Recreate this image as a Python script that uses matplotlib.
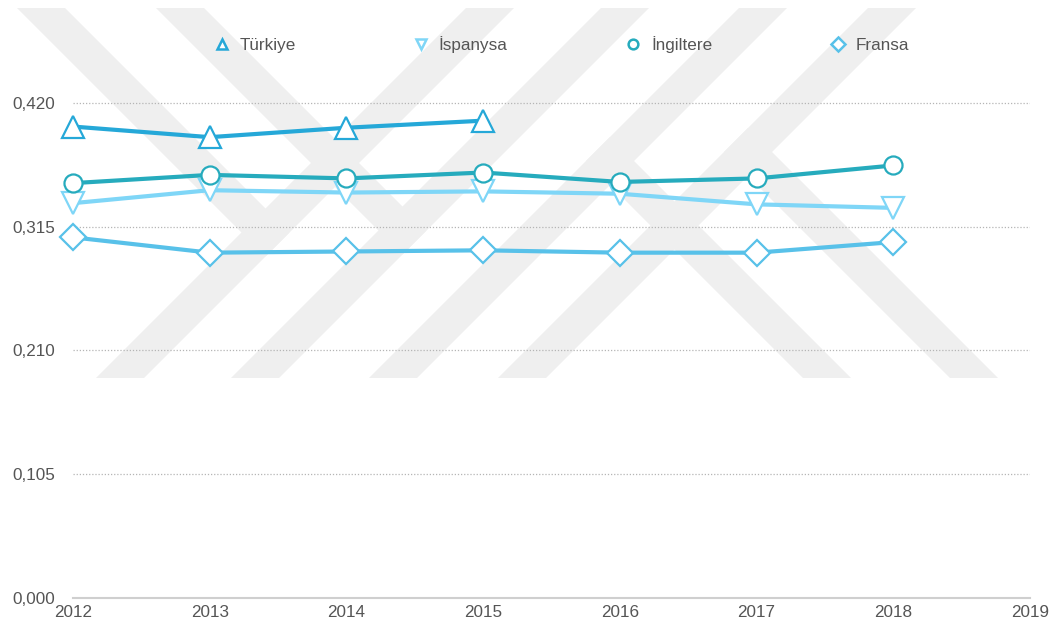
import matplotlib
matplotlib.use("Agg")
import matplotlib.pyplot as plt
from matplotlib.lines import Line2D
from matplotlib.patches import Polygon

# ---- data ----
years = [2012, 2013, 2014, 2015, 2016, 2017, 2018]
turkiye = [0.400, 0.391, 0.399, 0.405]
ispanya = [0.335, 0.346, 0.344, 0.345, 0.343, 0.334, 0.331]
ingiltere = [0.352, 0.359, 0.356, 0.361, 0.353, 0.356, 0.367]
fransa = [0.306, 0.293, 0.294, 0.295, 0.293, 0.293, 0.302]
series_names = ["Türkiye", "İspanysa", "İngiltere", "Fransa"]
yticks = [0.0, 0.105, 0.210, 0.315, 0.420]
ytick_labels = ["0,000", "0,105", "0,210", "0,315", "0,420"]
xticks = [2012, 2013, 2014, 2015, 2016, 2017, 2018, 2019]

W, H = 1056, 629
fig = plt.figure(figsize=(W / 100, H / 100), dpi=100)
plt.rcParams['font.family'] = ['Liberation Sans', 'DejaVu Sans']

# ---- watermark (decorative background) ----
def fx(x):
    return x / W

def fy(y):
    return 1 - y / H

wm_color = "#efefef"
y_top, y_bot = 8, 378
bw = 48
def slash(xb):
    d = y_bot - y_top
    return [(xb, y_bot), (xb + bw, y_bot), (xb + bw + d, y_top), (xb + d, y_top)]

def back_top(x0, xb):
    xr = xb + bw
    def meet(xe):
        y = (xr + y_bot - xe + y_top) / 2.0
        return (xe + (y - y_top), y)
    return [(x0, y_top), (x0 + bw, y_top), meet(x0 + bw), meet(x0)]

def back_bot(xb0, xs):
    def meet(xe):
        t = (xe - xs) / 2.0
        return (xe - t, y_bot - t)
    return [(xb0, y_bot), (xb0 + bw, y_bot), meet(xb0 + bw), meet(xb0)]

slash_x = [96, 231, 369, 498]
polys = [slash(x) for x in slash_x]
polys.append(back_top(17, 96))
polys.append(back_top(156, 231))
polys.append(back_bot(803, 369))
polys.append(back_bot(950, 498))
for p in polys:
    fig.patches.append(Polygon([(fx(a), fy(b)) for a, b in p], closed=True,
                               transform=fig.transFigure, facecolor=wm_color,
                               edgecolor="none", zorder=-5))

# ---- axes ----
ax = fig.add_axes([73 / W, (H - 598) / H, 957 / W, (598 - 8.7) / H])
ax.set_zorder(1)
ax.patch.set_alpha(0)
ax.set_xlim(2012, 2019)
ax.set_ylim(0, 0.5)

colors = {"Türkiye": "#25a8d8", "İspanysa": "#7fd6f7",
          "İngiltere": "#26abbd", "Fransa": "#58c1e9"}
markers = {"Türkiye": "^", "İspanysa": "v", "İngiltere": "o", "Fransa": "D"}
msizes = {"Türkiye": 16, "İspanysa": 16, "İngiltere": 13, "Fransa": 13}
data = {"Türkiye": turkiye, "İspanysa": ispanya, "İngiltere": ingiltere, "Fransa": fransa}

for name in ["Fransa", "İspanysa", "İngiltere", "Türkiye"]:
    vals = data[name]
    ax.plot(years[:len(vals)], vals, color=colors[name], lw=3.0,
            marker=markers[name], markersize=msizes[name],
            markerfacecolor="white", markeredgecolor=colors[name],
            markeredgewidth=1.6, zorder=3, clip_on=False)

ax.set_yticks(yticks)
ax.set_yticklabels(ytick_labels)
ax.set_xticks(xticks)
ax.set_xticklabels([str(x) for x in xticks])
ax.tick_params(axis='both', length=0, labelsize=12.3, colors="#555555")
ax.tick_params(axis='y', pad=13)
ax.tick_params(axis='x', pad=5)
for s in ["top", "right", "left"]:
    ax.spines[s].set_visible(False)
ax.spines["bottom"].set_color("#cfcfcf")
ax.spines["bottom"].set_linewidth(1.5)
for yv in yticks[1:]:
    ax.axhline(yv, color="#b5b5b5", lw=0.9, ls=(0, (1, 1.5)), zorder=1)

# ---- legend ----
handles = [Line2D([], [], linestyle="none", marker=markers[n], markersize=7,
                  markerfacecolor="white", markeredgecolor=colors[n],
                  markeredgewidth=1.8) for n in series_names]
fig.legend(handles, series_names, ncol=4, loc="center",
           bbox_to_anchor=(561 / W, 1 - 45 / H), frameon=False,
           columnspacing=6.85, handlelength=1.0, handletextpad=0.53,
           prop={"size": 12.3}, labelcolor="#555555")

fig.savefig("out.png", dpi=100)
